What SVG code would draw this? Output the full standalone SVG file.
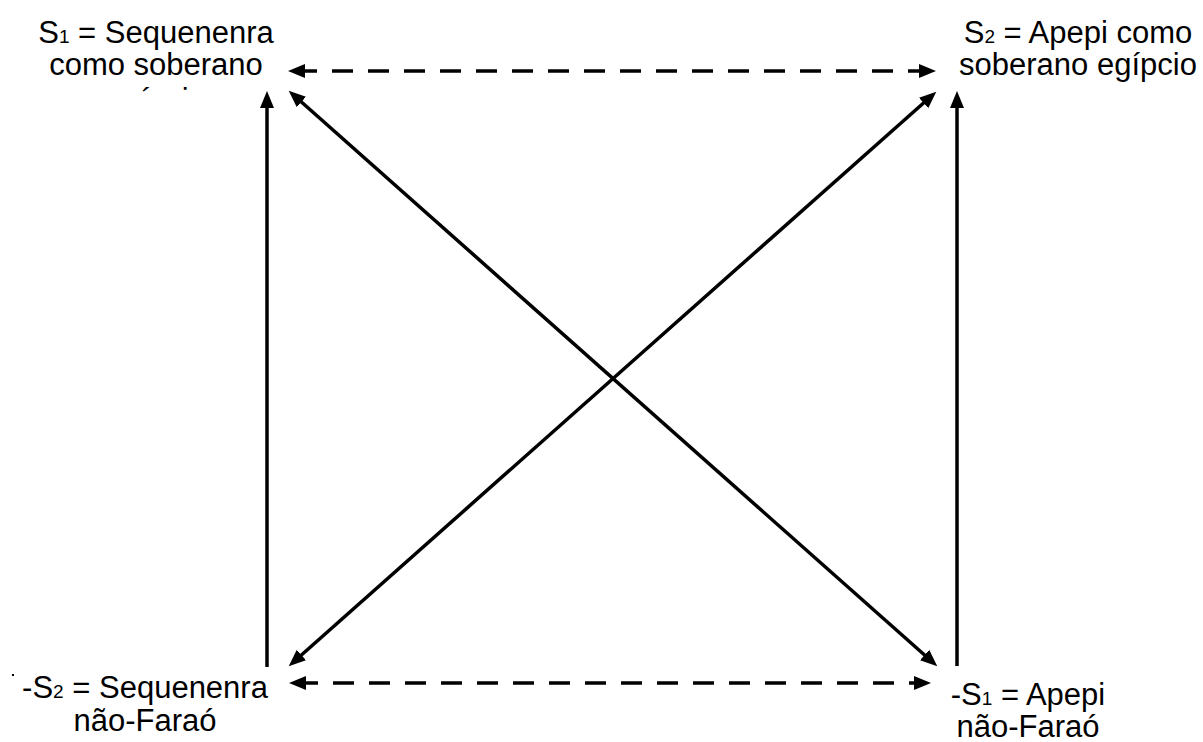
<svg xmlns="http://www.w3.org/2000/svg" width="1203" height="742" viewBox="0 0 1203 742">
  <style>
    .lbl { font-family: "Liberation Sans", Arial, sans-serif; font-size: 31px; fill: #000; text-anchor: middle; }
    .sub { font-size: 19px; }
    .ln { stroke: #000; stroke-width: 3.5; fill: none; }
    .dash { stroke-dasharray: 21 15; }
  </style>
  <defs>
    <marker id="ah" markerUnits="userSpaceOnUse" markerWidth="19" markerHeight="15" refX="9" refY="7" orient="auto-start-reverse" viewBox="0 0 19 15">
      <path d="M0,0 L17,7 L0,14 z" fill="#000"/>
    </marker>
    <clipPath id="clipTop">
      <rect x="0" y="0" width="400" height="93"/>
    </clipPath>
  </defs>
  <rect width="1203" height="742" fill="#fff"/>

  <g id="connectors">
    <line class="ln dash" x1="296" y1="71" x2="928" y2="71" marker-start="url(#ah)" marker-end="url(#ah)"/>
    <line class="ln dash" x1="297" y1="683" x2="923" y2="683" marker-start="url(#ah)" marker-end="url(#ah)"/>
    <line class="ln" x1="267" y1="667" x2="267" y2="99" marker-end="url(#ah)"/>
    <line class="ln" x1="957" y1="666" x2="957" y2="99" marker-end="url(#ah)"/>
    <line class="ln" x1="294.7" y1="96" x2="931.3" y2="661" marker-start="url(#ah)" marker-end="url(#ah)"/>
    <line class="ln" x1="294.7" y1="661" x2="930.3" y2="97" marker-start="url(#ah)" marker-end="url(#ah)"/>
  </g>

  <g id="node-s1">
    <text class="lbl" x="156" y="43">S<tspan class="sub">1</tspan> = Sequenenra</text>
    <text class="lbl" x="156" y="75">como soberano</text>
    <text class="lbl" x="156" y="110" clip-path="url(#clipTop)">egípcio</text>
  </g>

  <g id="node-s2">
    <text class="lbl" x="1078" y="43">S<tspan class="sub">2</tspan> = Apepi como</text>
    <text class="lbl" x="1078" y="75">soberano egípcio</text>
  </g>

  <g id="node-not-s2">
    <rect x="12" y="674" width="2" height="2" fill="#000"/>
    <text class="lbl" x="145" y="698">-S<tspan class="sub">2</tspan> = Sequenenra</text>
    <text class="lbl" x="145" y="731">não-Faraó</text>
  </g>

  <g id="node-not-s1">
    <text class="lbl" x="1028" y="705">-S<tspan class="sub">1</tspan> = Apepi</text>
    <text class="lbl" x="1028" y="737">não-Faraó</text>
  </g>
</svg>
